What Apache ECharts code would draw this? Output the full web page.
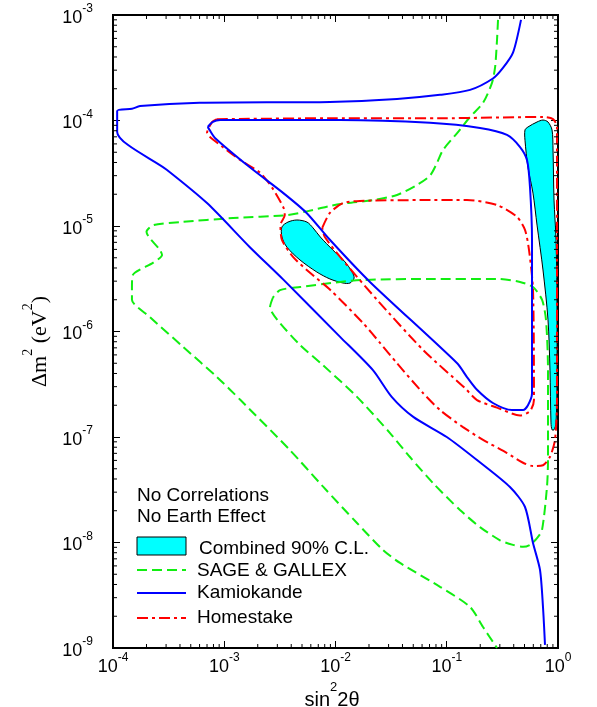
<!DOCTYPE html>
<html>
<head>
<meta charset="utf-8">
<title>Solar neutrino oscillation: allowed regions</title>
<script src="https://cdn.jsdelivr.net/npm/echarts@6/dist/echarts.min.js"></script>
<style>
  html, body { margin: 0; padding: 0; background: #fff; }
  #chart { width: 597px; height: 707px; }
</style>
</head>
<body>
<div id="chart"></div>
<script>
// Axis ranges: sin^2(2θ) and Δm^2 (eV^2)
const X_MIN = 1e-4, X_MAX = 1;
const Y_MIN = 1e-9, Y_MAX = 1e-3;

// Contours as [sin^2 2θ, Δm^2] pairs
const sageOuter = [
  [0.289, 9.0e-4], [0.283, 5.8e-4], [0.272, 3.2e-4], [0.255, 2.27e-4], [0.212, 1.47e-4],
  [0.162, 1.08e-4], [0.124, 7.6e-5], [0.0925, 5.25e-5], [0.0817, 3.96e-5], [0.0707, 3.0e-5],
  [0.054, 2.45e-5], [0.0357, 1.97e-5], [0.0217, 1.76e-5], [0.0127, 1.65e-5], [8.9e-3, 1.55e-5],
  [6.3e-3, 1.42e-5], [3.7e-3, 1.27e-5], [1.2e-3, 1.19e-5], [4.0e-4, 1.09e-5], [2.3e-4, 1.02e-5],
  [2.0e-4, 8.8e-6], [2.65e-4, 5.9e-6], [2.76e-4, 5.3e-6], [2.3e-4, 4.5e-6], [1.5e-4, 3.4e-6],
  [1.48e-4, 2.6e-6], [1.48e-4, 2.0e-6], [2.15e-4, 1.37e-6], [4.3e-4, 7.1e-7], [8.6e-4, 3.7e-7],
  [1.4e-3, 2.24e-7], [3.9e-3, 7.5e-8], [7.7e-3, 3.4e-8], [0.0156, 1.53e-8], [0.0267, 8.5e-9],
  [0.038, 6.4e-9], [0.087, 3.8e-9], [0.162, 2.45e-9], [0.212, 1.58e-9], [0.283, 1.0e-9]
];
const sageInner = [
  [2.74e-3, 2.1e-6], [2.58e-3, 1.7e-6], [3.0e-3, 1.29e-6], [4.8e-3, 7.45e-7], [7.7e-3, 4.8e-7],
  [0.0156, 2.4e-7], [0.0309, 1.09e-7], [0.0467, 6.46e-8], [0.0752, 3.66e-8], [0.1315, 2.03e-8],
  [0.199, 1.4e-8], [0.301, 1.05e-8], [0.394, 9.5e-9], [0.485, 9.1e-9], [0.56, 9.5e-9],
  [0.648, 1.1e-8], [0.718, 1.31e-8], [0.796, 3.36e-8], [0.813, 6.05e-8], [0.813, 4.3e-7],
  [0.78, 1.29e-6], [0.718, 2.0e-6], [0.596, 2.64e-6], [0.456, 2.95e-6], [0.283, 3.15e-6],
  [0.0707, 3.15e-6], [0.0177, 3.08e-6], [0.011, 2.95e-6], [4.8e-3, 2.64e-6], [3.17e-3, 2.47e-6],
  [2.74e-3, 2.1e-6]
];
const kamiokandeOuter = [
  [0.465, 9.0e-4], [0.394, 4.4e-4], [0.32, 3.15e-4], [0.26, 2.5e-4], [0.162, 1.95e-4],
  [0.087, 1.75e-4], [0.0357, 1.6e-4], [8.9e-3, 1.5e-4], [6.0e-4, 1.47e-4], [1.75e-4, 1.37e-4],
  [1.48e-4, 1.29e-4], [1.09e-4, 1.23e-4], [1.09e-4, 7.8e-5], [3.06e-4, 3.4e-5], [7.0e-4, 1.65e-5],
  [1.7e-3, 6.3e-6], [3.4e-3, 3.1e-6], [1.1e-2, 8.9e-7], [2.17e-2, 4.3e-7], [3.2e-2, 2.4e-7],
  [5.0e-2, 1.55e-7], [0.1, 1.0e-7], [0.187, 6.05e-8], [0.37, 3.36e-8], [0.505, 2.17e-8],
  [0.596, 9.9e-9], [0.689, 5.5e-9], [0.733, 2.45e-9], [0.764, 1.07e-9]
];
const kamiokandeInner = [
  [7.1e-4, 8.7e-5], [7.9e-4, 9.7e-5], [9.2e-4, 1.01e-4], [1.1e-2, 1.01e-4], [0.0707, 9.5e-5],
  [0.199, 8.5e-5], [0.348, 7.3e-5], [0.456, 5.6e-5], [0.527, 4.2e-5], [0.56, 2.34e-5],
  [0.584, 7.4e-6], [0.584, 2.6e-7], [0.537, 2.0e-7], [0.485, 1.8e-7], [0.386, 1.8e-7],
  [0.26, 2.1e-7], [0.187, 2.8e-7], [0.152, 3.7e-7], [0.124, 5.0e-7], [0.0204, 2.95e-6],
  [8.9e-3, 7.4e-6], [5.5e-3, 1.33e-5], [3.4e-3, 2.05e-5], [1.7e-3, 3.6e-5], [8.3e-4, 6.8e-5],
  [7.4e-4, 8.1e-5], [7.1e-4, 8.7e-5]
];
const homestakeOuter = [
  [8.6e-4, 1.03e-4], [8.9e-3, 1.05e-4], [0.087, 1.05e-4], [0.733, 1.08e-4], [0.902, 1.03e-4],
  [0.979, 8.7e-5], [0.979, 5.9e-6], [0.979, 2.24e-7], [0.94, 9.4e-8], [0.847, 6.5e-8],
  [0.733, 5.4e-8], [0.596, 5.3e-8], [0.485, 5.7e-8], [0.348, 7.05e-8], [0.212, 9.4e-8],
  [0.14, 1.24e-7], [0.087, 1.8e-7], [0.0612, 2.61e-7], [0.0357, 5.0e-7], [0.0251, 7.8e-7],
  [0.0177, 1.2e-6], [8.9e-3, 2.5e-6], [5.9e-3, 3.6e-6], [4.15e-3, 5.1e-6],
  [3.3e-3, 7.4e-6], [3.2e-3, 1.02e-5], [3.5e-3, 1.27e-5], [3.4e-3, 1.5e-5], [2.7e-3, 2.3e-5],
  [2.1e-3, 3.2e-5], [1.4e-3, 4.2e-5], [9.7e-4, 5.6e-5], [7.4e-4, 7.0e-5], [7.0e-4, 7.6e-5],
  [7.8e-4, 9.7e-5], [8.6e-4, 1.03e-4]
];
const homestakeInner = [
  [7.6e-3, 9.6e-6], [8.9e-3, 1.33e-5], [1.17e-2, 1.65e-5], [1.66e-2, 1.73e-5], [5.75e-2, 1.76e-5],
  [0.152, 1.76e-5], [0.283, 1.58e-5], [0.428, 1.22e-5], [0.505, 9.2e-6], [0.549, 5.9e-6],
  [0.596, 2.5e-6], [0.608, 2.24e-7], [0.56, 1.76e-7], [0.456, 1.6e-7], [0.283, 1.9e-7],
  [0.187, 2.24e-7], [0.146, 2.9e-7], [0.0612, 6.7e-7], [0.0236, 2.0e-6], [1.1e-2, 5.1e-6],
  [8.0e-3, 7.9e-6], [7.6e-3, 9.6e-6]
];
// Combined 90% C.L. allowed islands (closed outlines)
const combinedSmallAngle = [
  [3.3e-3, 9.8e-6], [3.74e-3, 1.09e-5], [4.5e-3, 1.14e-5], [5.54e-3, 1.09e-5], [6.28e-3, 9.6e-6],
  [7.3e-3, 7.87e-6], [9.5e-3, 5.9e-6], [0.0122, 4.56e-6], [0.0141, 3.66e-6], [0.0147, 3.21e-6],
  [0.0135, 2.88e-6], [0.0117, 2.88e-6], [8.9e-3, 3.15e-6], [6.8e-3, 3.66e-6], [4.8e-3, 4.76e-6],
  [3.66e-3, 6.3e-6], [3.3e-3, 7.87e-6]
];
const combinedLargeAngle = [
  [0.505, 8.13e-5], [0.537, 8.68e-5], [0.648, 9.68e-5], [0.733, 1.01e-4], [0.813, 9.68e-5],
  [0.884, 8.13e-5], [0.902, 5.25e-5], [0.921, 1.76e-5], [0.96, 7.4e-6], [0.979, 2.0e-6],
  [0.979, 3.47e-7], [0.96, 1.36e-7], [0.921, 1.17e-7], [0.884, 1.17e-7], [0.865, 1.36e-7],
  [0.847, 4.3e-7], [0.813, 1.29e-6], [0.733, 3.83e-6], [0.648, 1.02e-5], [0.596, 2.05e-5],
  [0.537, 3.6e-5], [0.505, 6.5e-5]
];

const legendNotes = ['No Correlations', 'No Earth Effect'];
const legendLabels = ['Combined 90% C.L.', 'SAGE & GALLEX', 'Kamiokande', 'Homestake'];

// Minor ticks at 2..9 within each decade
const minorMultipliers = [2, 3, 4, 5, 6, 7, 8, 9];
const xDecades = [1e-4, 1e-3, 1e-2, 1e-1];
const yDecades = [1e-9, 1e-8, 1e-7, 1e-6, 1e-5, 1e-4];
const xMinor = [];
xDecades.forEach(d => minorMultipliers.forEach(m => xMinor.push(m * d)));
const yMinor = [];
yDecades.forEach(d => minorMultipliers.forEach(m => yMinor.push(m * d)));

const SANS = "'Liberation Sans', Arial, Helvetica, sans-serif";
const SERIF = "'Liberation Serif', 'Times New Roman', serif";
const COLORS = { sage: '#11ee11', kam: '#0000ff', home: '#ff0000', fill: '#00ffff' };
const DASH_SAGE = [10, 5];
const DASH_HOME = [11, 4, 3, 4];

// "10" with the exponent raised as a superscript
const powerLabel = v => '{b|10}{s|' + Math.round(Math.log10(v)) + '}';
const powerRich = {
  b: { fontSize: 18, fontFamily: SANS, color: '#000', lineHeight: 24, verticalAlign: 'bottom' },
  s: { fontSize: 12, fontFamily: SANS, color: '#000', lineHeight: 12, verticalAlign: 'top' }
};

function contour(name, data, color, dash) {
  return {
    type: 'line', name, data, symbol: 'none', showSymbol: false, smooth: 0.25,
    lineStyle: { color, width: 2, type: dash }, z: 3, silent: true, clip: false
  };
}

function island(name, points) {
  return {
    type: 'custom', name, coordinateSystem: 'cartesian2d', data: points, z: 2, silent: true,
    renderItem: (params, api) => {
      if (params.dataIndex !== 0) return null;
      const pts = points.map(p => api.coord(p));
      return {
        type: 'polygon', shape: { points: pts, smooth: 0.3 },
        style: { fill: COLORS.fill, stroke: '#000', lineWidth: 1 }
      };
    }
  };
}

function minorTicks(values, isX) {
  const L = 4;
  return {
    type: 'custom', coordinateSystem: 'cartesian2d', silent: true, z: 6,
    data: values.map(v => (isX ? [v, Y_MIN] : [X_MIN, v])),
    renderItem: (params, api) => {
      const v = api.value(isX ? 0 : 1);
      const a = api.coord(isX ? [v, Y_MIN] : [X_MIN, v]);
      const b = api.coord(isX ? [v, Y_MAX] : [X_MAX, v]);
      const s = { stroke: '#000', lineWidth: 1 };
      const kids = isX ? [
        { type: 'line', shape: { x1: a[0], y1: a[1], x2: a[0], y2: a[1] - L }, style: s },
        { type: 'line', shape: { x1: b[0], y1: b[1], x2: b[0], y2: b[1] + L }, style: s }
      ] : [
        { type: 'line', shape: { x1: a[0], y1: a[1], x2: a[0] + L, y2: a[1] }, style: s },
        { type: 'line', shape: { x1: b[0], y1: b[1], x2: b[0] - L, y2: b[1] }, style: s }
      ];
      return { type: 'group', children: kids };
    }
  };
}

const majorTick = { show: true, inside: true, length: 7, lineStyle: { color: '#000', width: 1 } };

// Legend block at the lower left of the plot
const LX = 137, LTX = 197;
const legendGraphic = [
  { type: 'text', style: { x: LX, y: 496, text: legendNotes[0], fontSize: 19, fontFamily: SANS, fill: '#000', verticalAlign: 'middle' } },
  { type: 'text', style: { x: LX, y: 517, text: legendNotes[1], fontSize: 19, fontFamily: SANS, fill: '#000', verticalAlign: 'middle' } },
  { type: 'rect', shape: { x: LX, y: 537, width: 49, height: 18 }, style: { fill: COLORS.fill, stroke: '#000', lineWidth: 1 } },
  { type: 'text', style: { x: LTX + 2, y: 549, text: legendLabels[0], fontSize: 19, fontFamily: SANS, fill: '#000', verticalAlign: 'middle' } },
  { type: 'line', shape: { x1: LX, y1: 570, x2: LX + 49, y2: 570 }, style: { stroke: COLORS.sage, lineWidth: 2, lineDash: DASH_SAGE } },
  { type: 'text', style: { x: LTX, y: 571, text: legendLabels[1], fontSize: 19, fontFamily: SANS, fill: '#000', verticalAlign: 'middle' } },
  { type: 'line', shape: { x1: LX, y1: 593, x2: LX + 49, y2: 593 }, style: { stroke: COLORS.kam, lineWidth: 2 } },
  { type: 'text', style: { x: LTX, y: 593, text: legendLabels[2], fontSize: 19, fontFamily: SANS, fill: '#000', verticalAlign: 'middle' } },
  { type: 'line', shape: { x1: LX, y1: 618, x2: LX + 49, y2: 618 }, style: { stroke: COLORS.home, lineWidth: 2, lineDash: DASH_HOME } },
  { type: 'text', style: { x: LTX, y: 618, text: legendLabels[3], fontSize: 19, fontFamily: SANS, fill: '#000', verticalAlign: 'middle' } }
];

const chart = echarts.init(document.getElementById('chart'), null, { renderer: 'canvas' });
chart.setOption({
  animation: false,
  backgroundColor: '#fff',
  grid: {
    left: 113, top: 15, right: 39, bottom: 59, containLabel: false, outerBoundsMode: 'none',
    show: true, borderColor: '#000', borderWidth: 2, backgroundColor: 'transparent'
  },
  xAxis: [
    {
      type: 'log', logBase: 10, min: X_MIN, max: X_MAX, position: 'bottom',
      axisLine: { show: false }, splitLine: { show: false }, axisTick: majorTick,
      axisLabel: { formatter: powerLabel, rich: powerRich, margin: 4 },
      name: '{m|sin}{s|2}{m|2θ}', nameLocation: 'middle', nameGap: 22,
      nameTextStyle: {
        padding: [0, 7, 0, 0],
        rich: {
          m: { fontSize: 20, fontFamily: SANS, color: '#000', lineHeight: 30, verticalAlign: 'bottom' },
          s: { fontSize: 13, fontFamily: SANS, color: '#000', lineHeight: 10, verticalAlign: 'top' }
        }
      }
    },
    {
      type: 'log', logBase: 10, min: X_MIN, max: X_MAX, position: 'top',
      axisLine: { show: false }, splitLine: { show: false }, axisTick: majorTick, axisLabel: { show: false }
    }
  ],
  yAxis: [
    {
      type: 'log', logBase: 10, min: Y_MIN, max: Y_MAX, position: 'left',
      axisLine: { show: false }, splitLine: { show: false }, axisTick: majorTick,
      axisLabel: { formatter: powerLabel, rich: powerRich, margin: 20 },
      name: '{m|Δm}{s|2}{m| (eV}{s|2}{m|)}', nameLocation: 'middle', nameGap: 57, nameRotate: 90,
      nameTextStyle: {
        padding: [0, 20, 0, 0],
        rich: {
          m: { fontSize: 22, fontFamily: SERIF, color: '#000', lineHeight: 30, verticalAlign: 'bottom' },
          s: { fontSize: 14, fontFamily: SERIF, color: '#000', lineHeight: 10, verticalAlign: 'top' }
        }
      }
    },
    {
      type: 'log', logBase: 10, min: Y_MIN, max: Y_MAX, position: 'right',
      axisLine: { show: false }, splitLine: { show: false }, axisTick: majorTick, axisLabel: { show: false }
    }
  ],
  graphic: { elements: legendGraphic },
  series: [
    island('Combined 90% C.L.', combinedSmallAngle),
    island('Combined 90% C.L.', combinedLargeAngle),
    contour('SAGE & GALLEX', sageOuter, COLORS.sage, DASH_SAGE),
    contour('SAGE & GALLEX', sageInner, COLORS.sage, DASH_SAGE),
    contour('Homestake', homestakeOuter, COLORS.home, DASH_HOME),
    contour('Homestake', homestakeInner, COLORS.home, DASH_HOME),
    contour('Kamiokande', kamiokandeOuter, COLORS.kam, 'solid'),
    contour('Kamiokande', kamiokandeInner, COLORS.kam, 'solid'),
    minorTicks(xMinor, true),
    minorTicks(yMinor, false)
  ]
});
</script>
</body>
</html>
